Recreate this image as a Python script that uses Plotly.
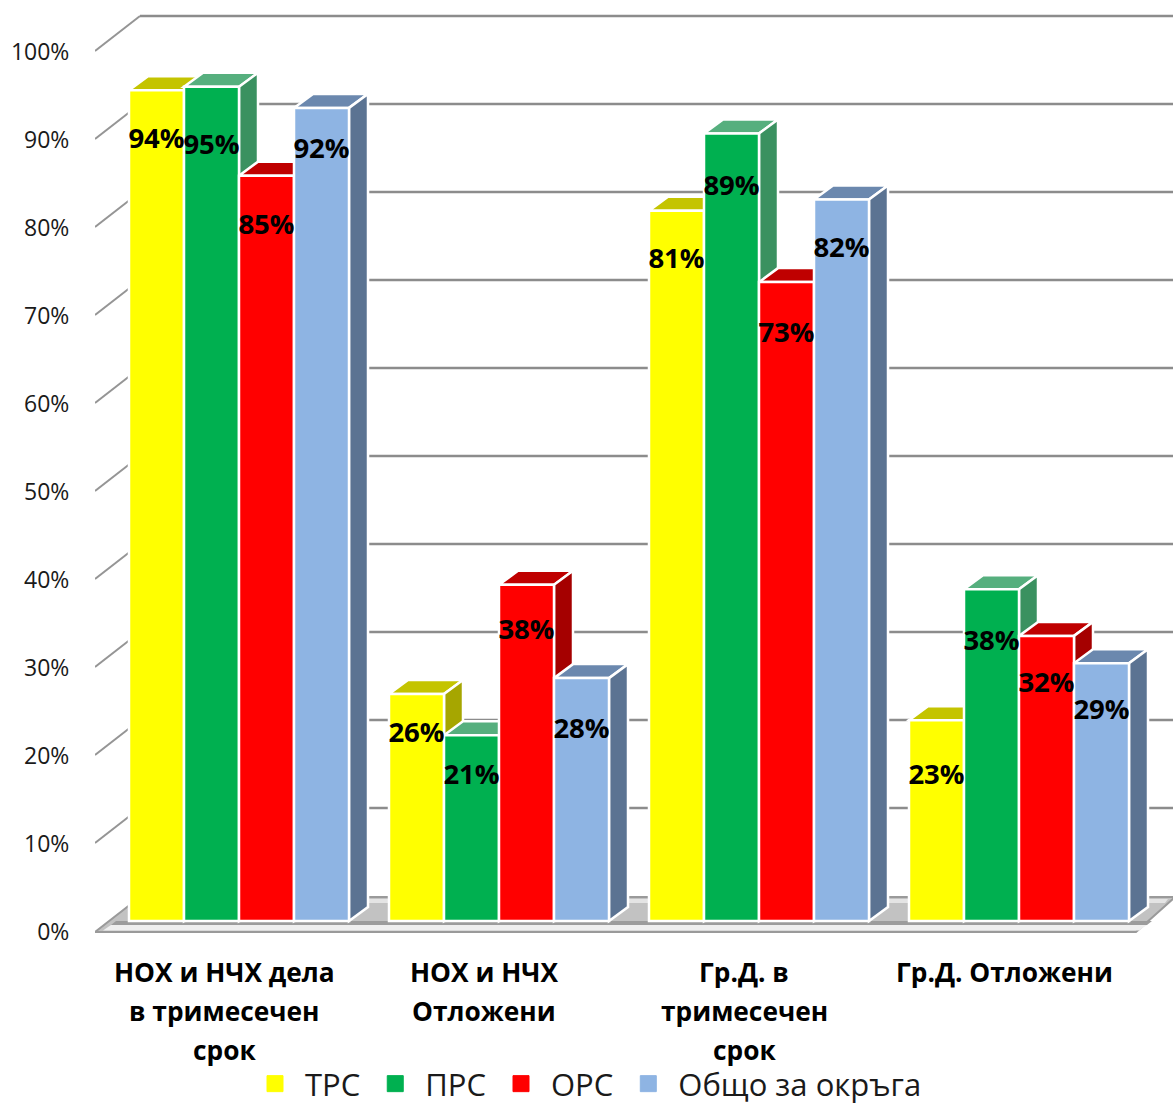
import numpy as np
import plotly.graph_objects as go

categories = ["НОХ и НЧХ дела<br>в тримесечен<br>срок", "НОХ и НЧХ<br>Отложени",
              "Гр.Д. в<br>тримесечен<br>срок", "Гр.Д. Отложени"]
series_names = ["ТРС", "ПРС", "ОРС", "Общо за окръга"]
trs = [94.4, 25.8, 80.7, 22.8]
prs = [94.8, 21.1, 89.5, 37.7]
ors = [84.7, 38.2, 72.6, 32.4]
total = [92.4, 27.6, 82.0, 29.3]
trs_labels = ["94%", "26%", "81%", "23%"]
prs_labels = ["95%", "21%", "89%", "38%"]
ors_labels = ["85%", "38%", "73%", "32%"]
total_labels = ["92%", "28%", "82%", "29%"]
tick_values = [0, 10, 20, 30, 40, 50, 60, 70, 80, 90, 100]
tick_labels = ["0%", "10%", "20%", "30%", "40%", "50%", "60%", "70%", "80%", "90%", "100%"]

values = [trs, prs, ors, total]
labels = [trs_labels, prs_labels, ors_labels, total_labels]

# style
front = ["#FFFF00", "#00B050", "#FF0000", "#8EB4E3"]
top_c = ["#C4C400", "#56AF7E", "#BF0000", "#6B88AE"]
side_c = ["#A6A600", "#3A9160", "#A50000", "#5B7392"]
label_drop = [[51, 41, 50, 57], [60, 42, 55, 54], [51, 47, 53, 49], [43, 53, 51, 49]]

W, H = 1173, 1104
PLOT_L, PLOT_B = 95, 945       # plot area edges in the page
X0_PX, X_UNIT = 239, 260       # first category centre, px per category
Y0_PX, Y_UNIT = 921, 8.8       # bar base, px per percent
AXIS_SHIFT = 11                # left axis zero sits below the bar base
BAR_PX = 55
DX, DY = 19, 14                # bar depth
WALL_DX, WALL_DY = 45, 35      # wall depth from left axis


def fx(px):
    return (px - X0_PX) / X_UNIT


def fy(py):
    return (Y0_PX - py) / Y_UNIT


def poly(pts, fill, line="white", width=2.5):
    d = "M" + "L".join(f"{x:.5f},{y:.4f}" for x, y in pts) + "Z"
    return dict(type="path", path=d, xref="x", yref="y", layer="below",
                fillcolor=fill, line=dict(color=line, width=width))


def band(xa0, xa1, xb1, xb0, y0, y1, fill):
    return poly([(fx(xa0), fy(y0)), (fx(xa1), fy(y0)), (fx(xb1), fy(y1)), (fx(xb0), fy(y1))],
                fill, fill, 0)


shapes = []
# walls: gridlines
for k in tick_values:
    y_front = 931 - k * Y_UNIT
    y_back = y_front - WALL_DY
    if k:
        shapes.append(dict(type="line", xref="x", yref="y", layer="below",
                           x0=fx(PLOT_L), y0=fy(y_front), x1=fx(PLOT_L + WALL_DX), y1=fy(y_back),
                           line=dict(color="#959595", width=2)))
        shapes.append(dict(type="line", xref="x", yref="y", layer="below",
                           x0=fx(PLOT_L + WALL_DX), y0=fy(y_back), x1=fx(W), y1=fy(y_back),
                           line=dict(color="#8C8C8C", width=2.5)))
# floor
shapes.append(poly([(fx(95), fy(932)), (fx(140), fy(897)), (fx(1175), fy(897)), (fx(1136), fy(932))],
                   "#C2C2C2", "#9A9A9A", 2))
shapes.append(band(137, 1168, 1165, 134, 899, 903, "#E4E4E4"))
shapes.append(band(116, 1152, 1147, 111, 921, 925, "#9C9C9C"))
shapes.append(band(111, 1147, 1139, 103, 925, 930.5, "#EFEFEF"))
# bar tops and sides, derived from the values
ddx, ddy = DX / X_UNIT, DY / Y_UNIT
bw = BAR_PX / X_UNIT
for c in range(len(categories)):
    for s in range(len(values)):
        v = values[s][c]
        xl = c - 2 * bw + s * bw
        xr = xl + bw
        shapes.append(poly([(xl, v), (xr, v), (xr + ddx, v + ddy), (xl + ddx, v + ddy)], top_c[s]))
        shapes.append(poly([(xr, 0), (xr + ddx, ddy), (xr + ddx, v + ddy), (xr, v)], side_c[s]))

xs = np.arange(len(categories))
fig = go.Figure()
for s, name in enumerate(series_names):
    fig.add_trace(go.Bar(x=xs, y=values[s], name=name, showlegend=False,
                         marker=dict(color=front[s], line=dict(color="white", width=2.5))))
for s, name in enumerate(series_names):
    fig.add_trace(go.Scatter(x=[None], y=[None], name=name, mode="markers",
                             marker=dict(symbol="square", color=front[s], size=16,
                                         line=dict(color=front[s], width=1))))
for s, name in enumerate(series_names):
    fig.add_trace(go.Scatter(
        x=xs - 1.5 * bw + s * bw,
        y=[values[s][c] - label_drop[s][c] / Y_UNIT for c in range(len(xs))],
        text=labels[s], mode="text", textposition="middle center", showlegend=False,
        textfont=dict(family="Open Sans", size=27.5, color="black", weight="bold"),
        hoverinfo="skip", cliponaxis=False))
fig.add_trace(go.Scatter(x=[None], y=[None], yaxis="y2", showlegend=False, hoverinfo="skip"))

annotations = []
for c, cat in enumerate(categories):
    for n, line in enumerate(cat.split("<br>")):
        annotations.append(dict(x=c - 15 / X_UNIT, xref="x", y=(PLOT_B - (972 + 39 * n)) / PLOT_B, yref="paper",
                                text=line, showarrow=False, yanchor="middle", xanchor="center",
                                font=dict(family="Open Sans", size=26.3, color="black", weight="bold")))

fig.update_layout(
    width=W, height=H, autosize=False,
    margin=dict(l=PLOT_L, r=0, t=0, b=H - PLOT_B, pad=0),
    paper_bgcolor="white", plot_bgcolor="white",
    barmode="group", bargap=40 / X_UNIT, bargroupgap=0,
    shapes=shapes, annotations=annotations,
    xaxis=dict(range=[fx(PLOT_L), fx(W)], tickvals=list(xs), showticklabels=False, ticks="",
               showgrid=False, zeroline=False, showline=False),
    yaxis=dict(range=[fy(PLOT_B), fy(0)], visible=False, showgrid=False, zeroline=False),
    yaxis2=dict(range=[fy(PLOT_B) + AXIS_SHIFT / Y_UNIT, fy(0) + AXIS_SHIFT / Y_UNIT],
                overlaying="y", side="left", tickvals=tick_values, ticktext=tick_labels,
                ticks="outside", ticklen=20, tickcolor="rgba(0,0,0,0)", showgrid=False,
                zeroline=False, showline=False,
                tickfont=dict(family="Open Sans", size=23, color="#1a1a1a")),
    legend=dict(orientation="h", xref="container", yref="container",
                x=245 / W, xanchor="left", y=1 - 1084 / H, yanchor="middle", itemwidth=50,
                font=dict(family="Open Sans", size=31, color="#1a1a1a"),
                bgcolor="rgba(0,0,0,0)"),
    showlegend=True,
)
fig.write_html("out.html", post_script="document.body.style.margin='0';",
               config={"displayModeBar": False})
